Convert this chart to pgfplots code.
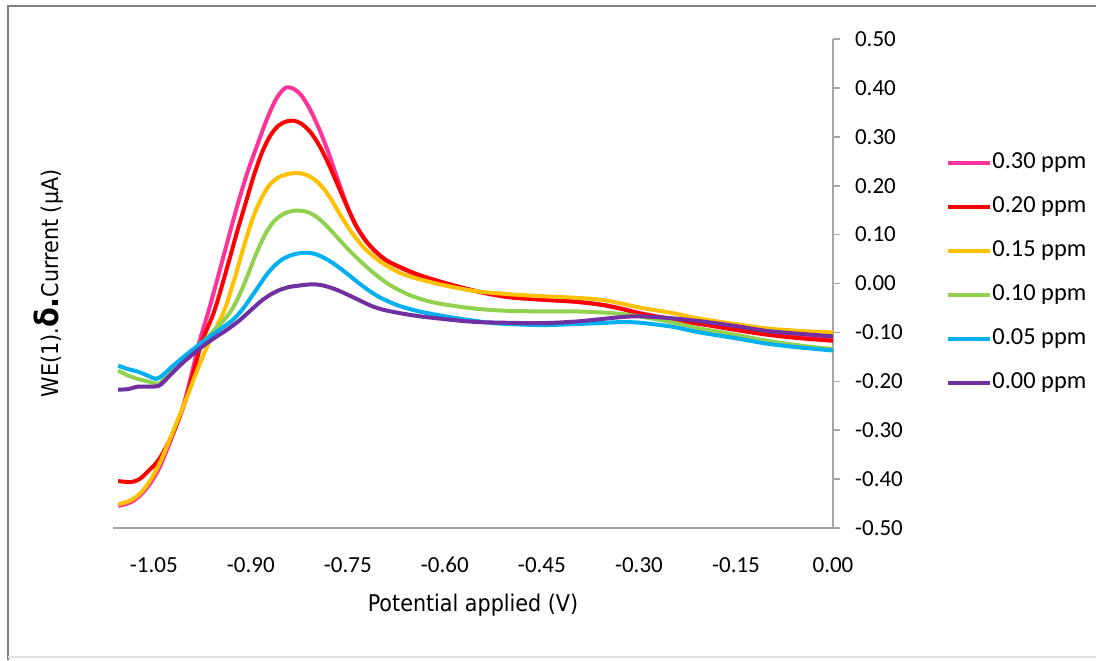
\documentclass[border=0pt]{standalone}
\usepackage{fontspec}
\setmainfont{Carlito}
\newfontfamily\titlefont{DejaVu Sans Condensed}
\usepackage{pgfplots}
\pgfplotsset{compat=1.18}
\definecolor{cpink}{RGB}{255,51,153}
\definecolor{cred}{RGB}{255,0,0}
\definecolor{cyel}{RGB}{255,192,0}
\definecolor{cgreen}{RGB}{146,208,80}
\definecolor{ccyan}{RGB}{0,176,240}
\definecolor{cpurp}{RGB}{112,48,160}
\definecolor{axgray}{RGB}{166,166,166}
\definecolor{framegray}{RGB}{128,128,128}
\begin{document}
\begin{tikzpicture}
\useasboundingbox (0,0) rectangle (548pt,330pt);
\draw[framegray, line width=1pt] (4pt,0pt) -- (4pt,327pt) -- (548pt,327pt);
\draw[black!12, line width=1pt] (4pt,1.5pt) -- (548pt,1.5pt);
\begin{axis}[
  scale only axis, width=360pt, height=244.5pt,
  at={(56.5pt,66pt)}, anchor=south west,
  xmin=-1.113, xmax=0, ymin=-0.5, ymax=0.5,
  axis x line=bottom, axis y line=right,
  axis line style={axgray, line width=0.8pt, -},
  xtick={-1.05,-0.9,-0.75,-0.6,-0.45,-0.3,-0.15,0},
  xticklabels={-1.05,-0.90,-0.75,-0.60,-0.45,-0.30,-0.15,0.00},
  ytick={-0.5,-0.4,-0.3,-0.2,-0.1,0,0.1,0.2,0.3,0.4,0.5},
  yticklabels={-0.50,-0.40,-0.30,-0.20,-0.10,0.00,0.10,0.20,0.30,0.40,0.50},
  x tick style={draw=none},
  y tick style={axgray, line width=0.8pt},
  major tick length=3.5pt, tick align=outside,
  tick label style={font=\fontsize{11.5}{13}\selectfont},
  yticklabel style={anchor=west, xshift=4pt},
  xticklabel style={yshift=-7.5pt},
  xlabel={\titlefont\fontsize{11.5}{13}\selectfont Potential applied (V)},
  ylabel={\titlefont\fontsize{11.5}{13}\selectfont WE(1).{\fontsize{16}{16}\selectfont\bfseries δ.}Current (μA)},
  every axis x label/.style={at={(axis description cs:0.5,-0.157)}, anchor=center},
  every axis y label/.style={at={(axis description cs:-0.09,0.5)}, rotate=90, anchor=center},
  legend style={draw=none, fill=none, at={(axis description cs:1.157,0.5215)}, anchor=west,
    font=\fontsize{12.2}{14}\selectfont, row sep=11.5pt, inner sep=0pt,
    nodes={inner ysep=0pt, inner xsep=0pt, text height=8pt, text depth=2.5pt}},
  legend cell align=left,
  legend image code/.code={\draw[#1] (0pt,0pt) -- (21pt,0pt);},
  every axis plot/.append style={line width=2pt, smooth, tension=0.5},
]
\addplot[cpink] coordinates {
(-1.105,-0.455) (-1.085,-0.447) (-1.070,-0.432) (-1.055,-0.408) (-1.041,-0.376)
(-1.023,-0.318) (-1.005,-0.253) (-0.992,-0.188) (-0.979,-0.117) (-0.965,-0.055)
(-0.948,0.027) (-0.934,0.096) (-0.920,0.163) (-0.905,0.228) (-0.890,0.283)
(-0.876,0.333) (-0.863,0.372) (-0.853,0.392) (-0.845,0.401) (-0.835,0.399)
(-0.822,0.385) (-0.808,0.355) (-0.795,0.318) (-0.782,0.275) (-0.767,0.218)
(-0.752,0.162) (-0.738,0.120) (-0.722,0.087) (-0.706,0.064) (-0.690,0.047)
(-0.670,0.033) (-0.645,0.019) (-0.620,0.008) (-0.580,-0.007) (-0.540,-0.019)
(-0.500,-0.028) (-0.450,-0.033) (-0.400,-0.037) (-0.360,-0.043) (-0.330,-0.050)
(-0.300,-0.060) (-0.250,-0.072) (-0.200,-0.080) (-0.150,-0.090) (-0.100,-0.100)
(-0.050,-0.107) (0.000,-0.113)};
\addlegendentry{0.30 ppm}
\addplot[cred] coordinates {
(-1.105,-0.404) (-1.085,-0.406) (-1.072,-0.400) (-1.058,-0.383) (-1.041,-0.358)
(-1.020,-0.305) (-1.001,-0.239) (-0.988,-0.178) (-0.975,-0.117) (-0.956,-0.055)
(-0.935,0.040) (-0.922,0.102) (-0.909,0.160) (-0.895,0.222) (-0.882,0.270)
(-0.870,0.302) (-0.858,0.322) (-0.846,0.331) (-0.834,0.333) (-0.822,0.327)
(-0.808,0.310) (-0.794,0.282) (-0.780,0.245) (-0.766,0.203) (-0.752,0.160)
(-0.738,0.120) (-0.722,0.087) (-0.706,0.064) (-0.690,0.047) (-0.670,0.034)
(-0.645,0.020) (-0.620,0.009) (-0.580,-0.006) (-0.540,-0.019) (-0.500,-0.028)
(-0.450,-0.033) (-0.400,-0.037) (-0.360,-0.043) (-0.330,-0.051) (-0.300,-0.061)
(-0.250,-0.074) (-0.200,-0.084) (-0.150,-0.095) (-0.100,-0.105) (-0.050,-0.112)
(0.000,-0.117)};
\addlegendentry{0.20 ppm}
\addplot[cyel] coordinates {
(-1.105,-0.452) (-1.085,-0.443) (-1.070,-0.428) (-1.055,-0.402) (-1.040,-0.365)
(-1.020,-0.302) (-1.001,-0.240) (-0.988,-0.195) (-0.975,-0.152) (-0.962,-0.113)
(-0.951,-0.083) (-0.940,-0.052) (-0.925,0.010) (-0.916,0.052) (-0.907,0.092)
(-0.897,0.133) (-0.886,0.168) (-0.872,0.200) (-0.857,0.217) (-0.842,0.224)
(-0.827,0.226) (-0.812,0.221) (-0.798,0.209) (-0.785,0.190) (-0.773,0.166)
(-0.760,0.137) (-0.747,0.110) (-0.734,0.087) (-0.721,0.068) (-0.700,0.045)
(-0.670,0.022) (-0.640,0.009) (-0.600,-0.004) (-0.550,-0.016) (-0.500,-0.022)
(-0.450,-0.026) (-0.400,-0.029) (-0.360,-0.033) (-0.330,-0.040) (-0.300,-0.049)
(-0.250,-0.060) (-0.206,-0.072) (-0.150,-0.083) (-0.102,-0.092) (-0.050,-0.097)
(0.000,-0.100)};
\addlegendentry{0.15 ppm}
\addplot[cgreen] coordinates {
(-1.105,-0.178) (-1.090,-0.188) (-1.075,-0.195) (-1.060,-0.200) (-1.043,-0.205)
(-1.032,-0.193) (-1.015,-0.172) (-0.998,-0.150) (-0.980,-0.128) (-0.962,-0.103)
(-0.945,-0.080) (-0.930,-0.055) (-0.917,-0.022) (-0.905,0.016) (-0.892,0.060)
(-0.878,0.100) (-0.865,0.126) (-0.851,0.141) (-0.837,0.148) (-0.824,0.149)
(-0.810,0.145) (-0.795,0.133) (-0.780,0.114) (-0.762,0.088) (-0.745,0.064)
(-0.731,0.046) (-0.715,0.027) (-0.700,0.011) (-0.685,-0.003) (-0.670,-0.014)
(-0.650,-0.026) (-0.620,-0.038) (-0.580,-0.047) (-0.540,-0.053) (-0.500,-0.056)
(-0.450,-0.057) (-0.400,-0.057) (-0.360,-0.059) (-0.330,-0.062) (-0.300,-0.067)
(-0.250,-0.079) (-0.206,-0.092) (-0.150,-0.105) (-0.102,-0.117) (-0.050,-0.127)
(0.000,-0.134)};
\addlegendentry{0.10 ppm}
\addplot[ccyan] coordinates {
(-1.105,-0.168) (-1.090,-0.175) (-1.075,-0.180) (-1.060,-0.188) (-1.046,-0.195)
(-1.035,-0.186) (-1.020,-0.168) (-1.000,-0.146) (-0.975,-0.120) (-0.950,-0.096)
(-0.930,-0.077) (-0.914,-0.055) (-0.900,-0.029) (-0.887,-0.004) (-0.875,0.019)
(-0.862,0.038) (-0.848,0.052) (-0.832,0.060) (-0.815,0.063) (-0.800,0.060)
(-0.786,0.052) (-0.770,0.039) (-0.752,0.021) (-0.736,0.004) (-0.721,-0.011)
(-0.705,-0.025) (-0.690,-0.035) (-0.670,-0.046) (-0.640,-0.057) (-0.600,-0.067)
(-0.550,-0.077) (-0.515,-0.082) (-0.450,-0.085) (-0.400,-0.083) (-0.360,-0.081)
(-0.330,-0.079) (-0.300,-0.080) (-0.250,-0.088) (-0.206,-0.100) (-0.150,-0.112)
(-0.102,-0.123) (-0.050,-0.131) (0.000,-0.137)};
\addlegendentry{0.05 ppm}
\addplot[cpurp] coordinates {
(-1.105,-0.217) (-1.090,-0.216) (-1.075,-0.211) (-1.060,-0.211) (-1.042,-0.209)
(-1.028,-0.192) (-1.010,-0.168) (-0.990,-0.145) (-0.970,-0.124) (-0.950,-0.106)
(-0.935,-0.093) (-0.918,-0.076) (-0.901,-0.056) (-0.885,-0.037) (-0.870,-0.023)
(-0.855,-0.013) (-0.840,-0.007) (-0.824,-0.004) (-0.810,-0.002) (-0.798,-0.002)
(-0.785,-0.005) (-0.767,-0.013) (-0.750,-0.023) (-0.731,-0.035) (-0.715,-0.045)
(-0.700,-0.052) (-0.680,-0.058) (-0.650,-0.065) (-0.620,-0.070) (-0.560,-0.078)
(-0.515,-0.080) (-0.450,-0.081) (-0.400,-0.078) (-0.360,-0.073) (-0.330,-0.069)
(-0.300,-0.067) (-0.250,-0.071) (-0.206,-0.077) (-0.150,-0.087) (-0.102,-0.097)
(-0.050,-0.103) (0.000,-0.108)};
\addlegendentry{0.00 ppm}
\end{axis}
\end{tikzpicture}
\end{document}
